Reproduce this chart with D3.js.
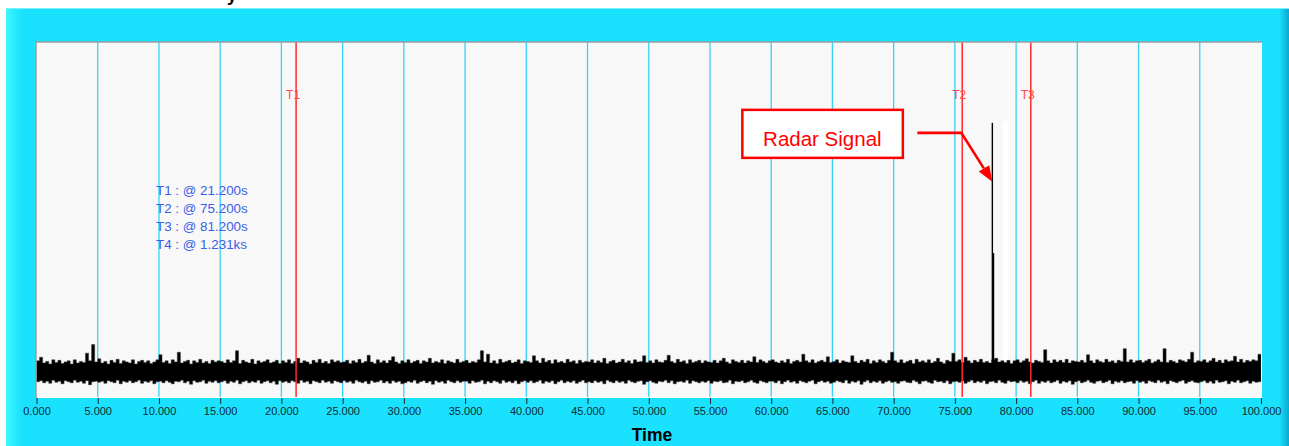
<!DOCTYPE html>
<html>
<head>
<meta charset="utf-8">
<script src="https://cdn.jsdelivr.net/npm/d3@7"></script>
<style>
  html, body { margin: 0; padding: 0; background: #ffffff; }
  svg { display: block; }
  text { font-family: Arial, "Liberation Sans", sans-serif; }
</style>
</head>
<body>
<script>
// time axis (s)
var tickValues = [0,5,10,15,20,25,30,35,40,45,50,55,60,65,70,75,80,85,90,95,100];
var gridValues = [5,10,15,20,25,30,35,40,45,50,55,60,65,70,75,80,85,90,95];

// cursors
var cursorNames = ['T1','T2','T3'];
var cursorPos = [21.2, 75.6, 81.2];
var legendLines = ['T1 : @ 21.200s','T2 : @ 75.200s','T3 : @ 81.200s','T4 : @ 1.231ks'];

// noise envelope, one value every 0.25 s (mV), one row = 5 s
var sampleStep = 0.25;
var noiseUpper = [
 23,30,19,22,17,25,20,24,18,21,23,17,25,19,22,20,38,23,55,21,
 27,19,22,17,24,20,26,18,23,21,19,25,17,22,24,20,23,18,21,25,
 35,20,23,18,25,21,40,19,22,24,17,23,20,26,19,22,18,24,21,23,
 22,19,25,20,23,43,18,24,21,19,26,17,23,20,22,25,19,21,24,18,
 23,20,25,18,22,28,19,23,21,17,24,20,26,19,22,18,25,21,23,20,
 21,24,18,23,20,26,19,22,34,21,18,25,20,23,19,24,31,21,18,23,
 20,25,19,22,24,18,23,21,28,19,22,20,25,18,23,21,19,26,20,22,
 24,19,22,20,25,43,21,36,19,23,18,26,20,22,24,19,21,25,18,23,
 22,20,33,23,19,28,21,24,18,25,20,22,19,26,21,23,18,24,20,22,
 21,25,19,23,20,28,18,22,24,19,21,26,20,23,18,25,21,22,33,20,
 23,19,25,21,20,24,34,22,19,26,21,23,18,25,20,22,24,19,23,21,
 20,24,19,23,28,21,18,25,22,20,24,19,23,21,31,20,25,22,19,23,
 25,21,19,23,20,26,18,22,24,21,36,23,20,25,19,22,24,21,31,20,
 22,25,19,23,21,20,33,22,19,24,21,26,18,23,20,25,22,19,24,40,
 23,20,25,19,22,24,18,26,21,23,20,25,19,22,28,21,18,24,22,38,
 22,25,20,30,23,19,24,21,26,20,22,19,25,28,21,23,20,24,18,23,
 25,20,23,27,21,19,24,22,20,45,23,19,25,21,24,20,26,19,23,22,
 21,24,20,35,23,19,25,22,20,26,21,23,19,24,22,47,21,25,20,23,
 24,20,23,26,19,22,25,21,47,20,24,22,19,25,23,21,26,40,20,23,
 22,25,20,23,28,21,24,19,25,22,23,32,21,26,20,24,22,25,23,36
];
var noiseLower = [
 -18,-16,-20,-17,-21,-15,-19,-17,-22,-16,-18,-20,-15,-19,-17,-21,-16,-24,-18,-17,
 -19,-17,-21,-16,-18,-20,-15,-22,-17,-19,-16,-20,-18,-15,-21,-17,-19,-16,-22,-18,
 -17,-20,-16,-19,-22,-17,-18,-15,-20,-17,-23,-16,-19,-18,-15,-21,-17,-19,-16,-20,
 -18,-16,-21,-17,-19,-15,-22,-18,-16,-20,-17,-19,-15,-21,-18,-16,-20,-17,-23,-16,
 -19,-17,-20,-16,-18,-21,-15,-19,-17,-22,-16,-18,-20,-15,-19,-17,-21,-16,-18,-20,
 -16,-19,-17,-21,-15,-18,-20,-17,-22,-16,-19,-18,-15,-20,-17,-21,-16,-19,-17,-22,
 -20,-17,-19,-15,-21,-18,-16,-20,-17,-23,-16,-19,-17,-21,-15,-18,-20,-16,-19,-17,
 -17,-21,-16,-19,-18,-15,-22,-17,-20,-16,-18,-21,-15,-19,-17,-20,-16,-22,-18,-16,
 -19,-16,-20,-18,-15,-21,-17,-19,-16,-22,-18,-15,-20,-17,-19,-16,-21,-18,-15,-20,
 -18,-20,-16,-19,-17,-22,-15,-18,-20,-16,-19,-17,-21,-15,-18,-20,-17,-16,-23,-18,
 -16,-19,-21,-17,-18,-15,-20,-16,-22,-18,-17,-19,-15,-21,-16,-18,-20,-17,-19,-16,
 -21,-17,-18,-16,-20,-19,-15,-22,-17,-18,-16,-20,-18,-15,-19,-21,-16,-18,-20,-17,
 -17,-20,-16,-22,-18,-15,-19,-17,-21,-16,-18,-20,-17,-15,-22,-18,-16,-19,-17,-21,
 -19,-16,-18,-20,-15,-21,-17,-19,-16,-23,-18,-15,-20,-17,-19,-16,-21,-18,-16,-19,
 -18,-21,-17,-16,-19,-20,-15,-18,-22,-17,-16,-19,-21,-15,-18,-17,-20,-16,-22,-18,
 -17,-19,-16,-21,-18,-15,-20,-17,-19,-16,-22,-18,-17,-20,-15,-19,-21,-16,-18,-17,
 -20,-16,-19,-17,-22,-18,-15,-21,-17,-19,-16,-20,-18,-15,-21,-17,-19,-16,-23,-18,
 -16,-20,-18,-15,-19,-21,-17,-16,-20,-18,-15,-22,-17,-19,-16,-20,-18,-17,-21,-16,
 -19,-17,-21,-16,-18,-20,-15,-19,-17,-22,-16,-18,-20,-17,-15,-21,-18,-16,-19,-20,
 -18,-16,-20,-17,-21,-15,-19,-18,-16,-22,-17,-19,-15,-20,-18,-16,-21,-17,-19,-18
];

// the radar pulse (time s, peak mV)
var pulseTimes = [78.06, 78.14];
var pulsePeaks = [491, 235];
var noteText = 'Radar Signal';
var noteAt = {t: 78.06, v: 375};

var W = 1289, H = 446;
var svg = d3.select('body').append('svg').attr('width', W).attr('height', H);

// cyan panel
var defs = svg.append('defs');
var gl = defs.append('linearGradient').attr('id','leftEdge');
gl.append('stop').attr('offset','0').attr('stop-color','#3ef6ff');
gl.append('stop').attr('offset','1').attr('stop-color','#1ae1fe');
var gr = defs.append('linearGradient').attr('id','rightEdge');
gr.append('stop').attr('offset','0').attr('stop-color','#1ae1fe');
gr.append('stop').attr('offset','1').attr('stop-color','#0aa9d2');

svg.append('rect').attr('x',6).attr('y',8).attr('width',W-6).attr('height',H-8).attr('fill','#1ae1fe');
svg.append('rect').attr('x',6).attr('y',8).attr('width',16).attr('height',H-8).attr('fill','url(#leftEdge)');
svg.append('rect').attr('x',1279).attr('y',8).attr('width',10).attr('height',H-8).attr('fill','url(#rightEdge)');
svg.append('line').attr('x1',6).attr('x2',W).attr('y1',8.5).attr('y2',8.5).attr('stroke','#7cf2ff');

// title, cut off by the top of the picture
svg.append('text').attr('x',227).attr('y',0.5).attr('font-size',18).attr('font-weight','bold').attr('fill','#000').text('y');

var pLeft = 36, pTop = 42, pRight = 1262, pBottom = 398;
var x = d3.scaleLinear().domain([0,100]).range([36.5,1261]);
var y = d3.scaleLinear().domain([-50,650]).range([pBottom, pTop]);

// plot area
svg.append('rect').attr('x',pLeft).attr('y',pTop).attr('width',pRight-pLeft).attr('height',pBottom-pTop).attr('fill','#f8f8f8');

var plot = svg.append('g');

// grid
plot.selectAll('line.grid').data(gridValues).enter().append('line')
  .attr('class','grid')
  .attr('x1',function(d){return x(d);}).attr('x2',function(d){return x(d);})
  .attr('y1',pTop).attr('y2',pBottom)
  .attr('stroke','#35d3f6').attr('stroke-width',1.3);

// white strip next to the pulse
plot.append('rect')
  .attr('x',x(78.95)).attr('width',x(79.35)-x(78.95))
  .attr('y',y(495)).attr('height',y(15)-y(495))
  .attr('fill','#ffffff');

// noise
var noise = noiseUpper.map(function(u,i){return {t:i*sampleStep, hi:u, lo:noiseLower[i]};});
noise.push({t:100, hi:noiseUpper[noiseUpper.length-1], lo:noiseLower[noiseLower.length-1]});
var area = d3.area()
  .x(function(d){return x(d.t);})
  .y0(function(d){return y(d.lo);})
  .y1(function(d){return y(d.hi);})
  .curve(d3.curveStepAfter);
plot.append('path').attr('d',area(noise)).attr('fill','#000').attr('stroke','#333').attr('stroke-width',0.5);

// pulse
plot.selectAll('line.pulse').data(pulseTimes).enter().append('line')
  .attr('class','pulse')
  .attr('x1',function(d){return x(d);}).attr('x2',function(d){return x(d);})
  .attr('y1',y(0)).attr('y2',function(d,i){return y(pulsePeaks[i]);})
  .attr('stroke','#000').attr('stroke-width',function(d,i){return i==0?1.4:1.8;});

// cursors
plot.selectAll('line.cursor').data(cursorPos).enter().append('line')
  .attr('class','cursor')
  .attr('x1',function(d){return x(d);}).attr('x2',function(d){return x(d);})
  .attr('y1',pTop).attr('y2',pBottom)
  .attr('stroke','#ff2a2a').attr('stroke-width',1.5);
plot.selectAll('text.cursor').data(cursorPos).enter().append('text')
  .attr('class','cursor')
  .attr('x',function(d){return x(d)-3;}).attr('y',99)
  .attr('text-anchor','middle').attr('font-size',12).attr('fill','#ff4a4a')
  .text(function(d,i){return cursorNames[i];});

// cursor readout
plot.selectAll('text.legend').data(legendLines).enter().append('text')
  .attr('class','legend')
  .attr('x',156).attr('y',function(d,i){return 195+i*18;})
  .attr('font-size',13.4).attr('fill','#3a5ee6')
  .text(function(d){return d;});

// frame
svg.append('path').attr('d','M'+pLeft+','+pBottom+'V'+pTop+'H'+pRight).attr('fill','none').attr('stroke','#9c9c9c').attr('stroke-width',1.5);
svg.append('path').attr('d','M'+(pLeft+1)+','+(pBottom-0.5)+'H'+(pRight-0.5)+'V'+(pTop+1)).attr('fill','none').attr('stroke','#ffffff').attr('stroke-width',1);

// note
var tipX = x(noteAt.t), tipY = y(noteAt.v);
svg.append('rect').attr('x',tipX-250).attr('y',tipY-72).attr('width',160.5).attr('height',48)
  .attr('fill','#ffffff').attr('stroke','#ff0000').attr('stroke-width',2.5);
svg.append('text').attr('x',tipX-170).attr('y',tipY-36).attr('text-anchor','middle')
  .attr('font-size',20.5).attr('fill','#ff0000').text(noteText);
svg.append('polyline')
  .attr('points',[[tipX-75,tipY-49],[tipX-31,tipY-49],[tipX-8.5,tipY-13.5]].join(' '))
  .attr('fill','none').attr('stroke','#ff0000').attr('stroke-width',2.6);
svg.append('polygon')
  .attr('points',[[tipX,tipY],[tipX-13.6,tipY-10.3],[tipX-3.1,tipY-16.7]].join(' '))
  .attr('fill','#ff0000');

// axis
var axis = svg.append('g').attr('transform','translate(0,'+pBottom+')')
  .call(d3.axisBottom(x).tickValues(tickValues).tickFormat(d3.format('.3f')).tickSize(6).tickPadding(3));
axis.select('.domain').remove();
axis.selectAll('line').attr('stroke','#1b2b30');
axis.selectAll('text').attr('font-size',11).attr('fill','#0b2a33').attr('font-family','Arial, "Liberation Sans", sans-serif');

svg.append('text').attr('x',652).attr('y',441).attr('text-anchor','middle')
  .attr('font-size',17.5).attr('font-weight','bold').attr('fill','#000').text('Time');
</script>
</body>
</html>
